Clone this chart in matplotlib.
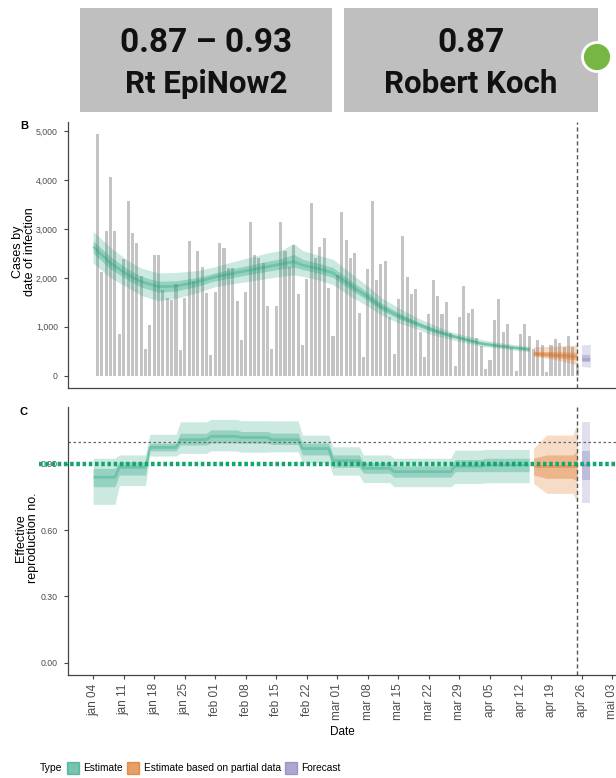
import numpy as np
import pandas as pd
import matplotlib
matplotlib.use("Agg")
import matplotlib.pyplot as plt
from matplotlib.patches import Rectangle, Circle, Patch
from matplotlib.ticker import StrMethodFormatter, FormatStrFormatter
from matplotlib.transforms import blended_transform_factory

# ---------------- data ----------------
origin = pd.Timestamp("2021-01-04")

# daily cases by date of infection, jan 05 .. apr 25
cases = [4930, 2120, 2960, 4050, 2960, 850, 2390, 3560, 2910, 2710, 2030, 550, 1040, 2470,
         2460, 1760, 1590, 1550, 1880, 530, 1590, 2760, 1930, 2550, 2230, 1690, 430, 1720,
         2710, 2600, 2200, 2210, 1530, 730, 1710, 3150, 2460, 2400, 2300, 1430, 550, 1430,
         3140, 2540, 2230, 2670, 1670, 630, 1980, 3520, 2410, 2620, 2820,
         1790, 820, 2060, 3340, 2780, 2400, 2500, 1280, 380, 2180, 3570, 1960, 2280, 2350,
         1200, 440, 1560, 2860, 2020, 1670, 1780, 900, 390, 1260, 1960, 1630, 1260, 1500, 870,
         190, 1200, 1840, 1280, 1370, 770, 600, 140, 320, 1140, 1560, 900, 1050, 560, 90,
         850, 1050, 820, 550, 720, 620, 70, 630, 750, 660, 580, 820, 590, 220]

# panel B: estimated infections (days after jan 04)
est_days = [0, 4, 8, 11, 15, 19, 24, 28, 32, 36, 40, 43, 46, 48, 52, 55, 59, 63, 66, 70,
            74, 78, 82, 86, 89, 93, 97, 100]
est_med = [2640, 2300, 2060, 1920, 1820, 1830, 1920, 2020, 2090, 2160, 2230, 2280, 2330, 2260,
           2180, 2100, 1850, 1610, 1410, 1220, 1070, 930, 820, 730, 660, 610, 570, 540]
est_hi90 = [2950, 2620, 2350, 2200, 2100, 2110, 2150, 2230, 2330, 2420, 2510, 2560, 2700, 2560,
            2450, 2380, 2100, 1830, 1600, 1390, 1200, 1040, 900, 810, 740, 680, 630, 600]
est_lo90 = [2300, 2000, 1800, 1640, 1530, 1580, 1700, 1820, 1880, 1930, 1990, 2030, 2060, 2030,
            1950, 1860, 1620, 1420, 1240, 1080, 960, 830, 740, 660, 600, 560, 520, 490]
est_hi50 = [2760, 2430, 2180, 2030, 1930, 1940, 2010, 2100, 2190, 2260, 2340, 2390, 2480, 2380,
            2290, 2210, 1950, 1700, 1490, 1290, 1120, 975, 850, 760, 690, 640, 595, 565]
est_lo50 = [2500, 2180, 1955, 1810, 1705, 1730, 1830, 1940, 2005, 2070, 2135, 2180, 2220, 2170,
            2090, 2005, 1760, 1535, 1340, 1165, 1025, 890, 790, 700, 635, 590, 550, 520]

part_days = [101, 106, 111]
part_med = [450, 420, 390]
part_hi90 = [590, 600, 630]
part_lo90 = [400, 330, 220]
part_hi50 = [500, 490, 480]
part_lo50 = [410, 370, 320]

fc_days = [112, 114]
fc_med = [350, 350]
fc_hi90 = [630, 640]
fc_lo90 = [190, 170]
fc_hi50 = [420, 420]
fc_lo50 = [290, 290]

# panel C: effective reproduction number, weekly segments
rt_start = [0, 6, 13, 20, 27, 34, 41, 48, 55, 62, 69, 76, 83, 90]
rt_end = [5, 12, 19, 26, 33, 40, 47, 54, 61, 68, 75, 82, 89, 100]
rt_med = [0.84, 0.885, 0.975, 1.01, 1.025, 1.02, 1.01, 0.97, 0.915, 0.88, 0.865, 0.865, 0.89, 0.895]
rt_hi90 = [0.926, 0.941, 1.034, 1.091, 1.102, 1.096, 1.095, 1.031, 0.978, 0.941, 0.926, 0.926, 0.963, 0.966]
rt_lo90 = [0.717, 0.802, 0.936, 0.948, 0.959, 0.953, 0.955, 0.906, 0.850, 0.816, 0.797, 0.797, 0.812, 0.815]
rt_hi50 = [0.880, 0.910, 0.994, 1.039, 1.054, 1.047, 1.040, 0.994, 0.941, 0.906, 0.891, 0.891, 0.920, 0.926]
rt_lo50 = [0.797, 0.850, 0.959, 0.986, 0.995, 0.994, 0.988, 0.941, 0.885, 0.858, 0.840, 0.840, 0.865, 0.865]

rt_part_days = [101, 104, 110, 111]
rt_part_med = [0.891, 0.891, 0.891, 0.891]
rt_part_hi90 = [0.971, 1.031, 1.031, 1.084]
rt_part_lo90 = [0.812, 0.767, 0.767, 0.722]
rt_part_hi50 = [0.926, 0.941, 0.941, 0.960]
rt_part_lo50 = [0.850, 0.835, 0.835, 0.820]

rt_fc_days = [112, 114]
rt_fc_med = [0.895, 0.895]
rt_fc_hi90 = [1.089, 1.089]
rt_fc_lo90 = [0.722, 0.722]
rt_fc_hi50 = [0.959, 0.959]
rt_fc_lo50 = [0.827, 0.827]

last_data_day = 111
rt_reference = 0.90   # green dotted marker line

tick_labels = ["jan 04", "jan 11", "jan 18", "jan 25", "feb 01", "feb 08", "feb 15", "feb 22",
               "mar 01", "mar 08", "mar 15", "mar 22", "mar 29", "apr 05", "apr 12", "apr 19",
               "apr 26", "mai 03"]

header_left = ("0.87 \u2013 0.93", "Rt EpiNow2")
header_right = ("0.87", "Robert Koch")

# ---------------- style ----------------
GREEN = "#1b9e77"
ORANGE = "#d95f02"
PURPLE = "#7570b3"
AXCOL = "#444444"
TICKCOL = "#4d4d4d"
SANS = ["Liberation Sans", "DejaVu Sans"]


def to_dates(days):
    return origin + pd.to_timedelta(days, unit="D")


def bands(ax, days, lo90, hi90, lo50, hi50, med, color):
    d = to_dates(days)
    ax.fill_between(d, lo90, hi90, color=color, alpha=0.22, lw=0)
    ax.fill_between(d, lo50, hi50, color=color, alpha=0.3, lw=0)
    ax.plot(d, med, color=color, alpha=0.3, lw=2.0, solid_capstyle="butt")


def steps(days_start, days_end, vals):
    xs, ys = [], []
    for s, e, v in zip(days_start, days_end, vals):
        xs += [s, e]
        ys += [v, v]
    return xs, ys


def style_axis(ax):
    for s in ["top", "right"]:
        ax.spines[s].set_visible(False)
    for s in ["left", "bottom"]:
        ax.spines[s].set_color(AXCOL)
        ax.spines[s].set_linewidth(0.9)
    ax.tick_params(axis="both", colors=AXCOL, length=3, width=0.8, labelcolor=TICKCOL)
    ax.tick_params(axis="y", pad=4.5)
    for lab in ax.get_yticklabels():
        lab.set_fontfamily(SANS)
        lab.set_fontsize(6.3)


W, H = 616, 778
fig = plt.figure(figsize=(W / 100, H / 100), dpi=100)

xmin = origin - pd.Timedelta(days=5.7)
xmax = origin + pd.Timedelta(days=119.9)

# ---------------- panel B ----------------
axb = fig.add_axes([68.3 / W, (H - 387.7) / H, 1 - 68.3 / W, (387.7 - 122) / H])
bar_dates = pd.date_range(origin + pd.Timedelta(days=1), periods=len(cases), freq="D")
axb.bar(bar_dates, cases, width=0.7, color="#c4c4c4", lw=0, zorder=1)
bands(axb, est_days, est_lo90, est_hi90, est_lo50, est_hi50, est_med, GREEN)
bands(axb, part_days, part_lo90, part_hi90, part_lo50, part_hi50, part_med, ORANGE)
bands(axb, fc_days, fc_lo90, fc_hi90, fc_lo50, fc_hi50, fc_med, PURPLE)
axb.axvline(to_dates([last_data_day])[0], color="#555555", lw=1.0, ls=(0, (3, 2)))
axb.set_xlim(xmin, xmax)
axb.set_ylim(-245, 5184)
axb.set_yticks([0, 1000, 2000, 3000, 4000, 5000])
axb.yaxis.set_major_formatter(StrMethodFormatter("{x:,.0f}"))
axb.tick_params(axis="x", bottom=False, labelbottom=False)
style_axis(axb)
axb.set_ylabel("Cases by\ndate of infection", family=SANS, fontsize=9, linespacing=1.0)
axb.yaxis.set_label_coords(36 / W, (H - 252) / H, transform=fig.transFigure)
fig.text(24 / W, (H - 126) / H, "B", fontsize=8, fontweight="bold", family=SANS, ha="center", va="center")

# ---------------- panel C ----------------
axc = fig.add_axes([68.3 / W, (H - 675) / H, 1 - 68.3 / W, (675 - 407) / H])
xs, ys = steps(rt_start, rt_end, rt_hi90)
_, ylo = steps(rt_start, rt_end, rt_lo90)
_, y50h = steps(rt_start, rt_end, rt_hi50)
_, y50l = steps(rt_start, rt_end, rt_lo50)
_, ymed = steps(rt_start, rt_end, rt_med)
bands(axc, xs, ylo, ys, y50l, y50h, ymed, GREEN)
bands(axc, rt_part_days, rt_part_lo90, rt_part_hi90, rt_part_lo50, rt_part_hi50, rt_part_med, ORANGE)
bands(axc, rt_fc_days, rt_fc_lo90, rt_fc_hi90, rt_fc_lo50, rt_fc_hi50, rt_fc_med, PURPLE)
axc.axhline(1.0, color="#666666", lw=0.9, ls=(0, (2, 2)))
axc.axvline(to_dates([last_data_day])[0], color="#555555", lw=1.0, ls=(0, (3, 2)))
axc.set_xlim(xmin, xmax)
axc.set_ylim(-0.0557, 1.158)
axc.set_yticks([0.0, 0.3, 0.6, 0.9])
axc.yaxis.set_major_formatter(FormatStrFormatter("%.2f"))
axc.set_xticks(to_dates(np.arange(len(tick_labels)) * 7))
axc.set_xticklabels(tick_labels, rotation=90, family=SANS, fontsize=8.5)
style_axis(axc)
axc.tick_params(axis="x", pad=3)
axc.set_ylabel("Effective\nreproduction no.", family=SANS, fontsize=9, linespacing=1.0)
axc.yaxis.set_label_coords(39 / W, (H - 538) / H, transform=fig.transFigure)
axc.set_xlabel("Date", family=SANS, fontsize=8.5)
axc.xaxis.set_label_coords(342 / W, (H - 726) / H, transform=fig.transFigure)
fig.text(24 / W, (H - 412) / H, "C", fontsize=8, fontweight="bold", family=SANS, ha="center", va="center")

# green dotted marker across the figure
tr = blended_transform_factory(fig.transFigure, axc.transData)
axc.plot([39 / W, 1.0], [rt_reference, rt_reference], transform=tr, clip_on=False,
         color="#12a86b", lw=3.2, ls=(0, (0.8, 0.6)), dash_capstyle="butt", zorder=10)

# legend
fig.text(40 / W, (H - 768) / H, "Type", family=SANS, fontsize=7.5, ha="left", va="center")
handles = [Patch(facecolor=c, edgecolor=c, alpha=0.6, lw=1) for c in (GREEN, ORANGE, PURPLE)]
fig.legend(handles, ["Estimate", "Estimate based on partial data", "Forecast"],
           loc="center left", bbox_to_anchor=(67 / W, (H - 768) / H), ncol=3, frameon=False,
           handlelength=1.15, handleheight=1.5, handletextpad=0.45, columnspacing=0.45,
           prop={"family": SANS, "size": 7.3}, borderaxespad=0, borderpad=0)

# ---------------- header boxes ----------------
axh = fig.add_axes([0, 0, 1, 1], zorder=5)
axh.set_xlim(0, W)
axh.set_ylim(H, 0)
axh.axis("off")
axh.patch.set_alpha(0)
for (x0, w), (l1, l2) in zip([(80, 252), (344, 254)], [header_left, header_right]):
    axh.add_patch(Rectangle((x0, 8), w, 104, facecolor="#bfbfbf", edgecolor="none"))
    axh.text(x0 + w / 2, 43, l1, ha="center", va="center", fontsize=24, fontweight="bold",
             family=["Roboto", "DejaVu Sans"], color="#111111")
    axh.text(x0 + w / 2, 84, l2, ha="center", va="center", fontsize=22.5, fontweight="bold",
             family=["Roboto", "DejaVu Sans"], color="#111111")
axh.add_patch(Circle((597, 57), 14.5, facecolor="#76b743", edgecolor="white", lw=2))

fig.savefig("out.png", dpi=100)
